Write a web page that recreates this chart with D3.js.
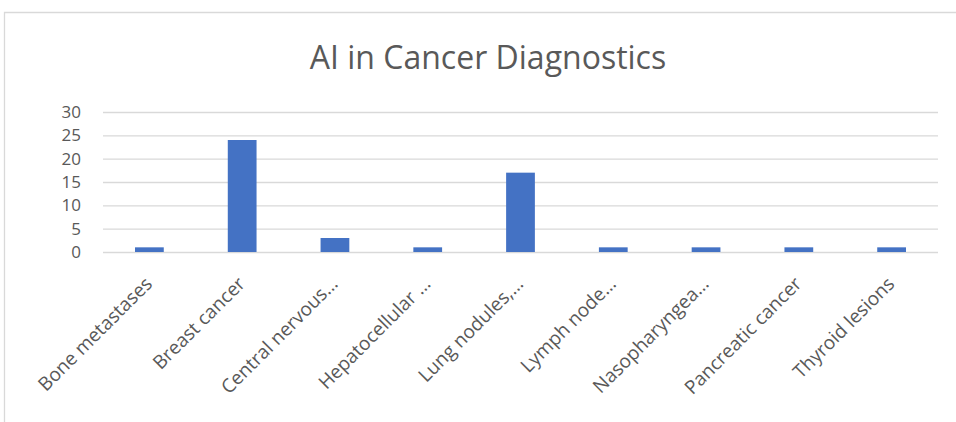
<!DOCTYPE html>
<html>
<head>
<meta charset="utf-8">
<script src="https://d3js.org/d3.v7.min.js"></script>
<style>
  body { margin: 0; background: #fff; }
  .grid line { stroke: #d9d9d9; stroke-width: 1.3px; }
  .grid .domain { stroke: none; }
  .yaxis text, .xaxis text { fill: #595959; }
</style>
</head>
<body>
<svg id="chart" width="956" height="422"></svg>
<script>
  const categories = ["Bone metastases", "Breast cancer", "Central nervous…", "Hepatocellular …",
    "Lung nodules,…", "Lymph node…", "Nasopharyngea…", "Pancreatic cancer", "Thyroid lesions"];
  const counts = [1, 24, 3, 1, 17, 1, 1, 1, 1];
  const yTicks = [0, 5, 10, 15, 20, 25, 30];

  const svg = d3.select("#chart");
  const margin = { top: 112, left: 103, right: 18, bottom: 170 };
  const chartWidth = 956 - margin.left - margin.right;
  const chartHeight = 252 - margin.top;

  // chart frame
  svg.append("path")
    .attr("d", "M4.5,422 L4.5,12.5 L956,12.5")
    .attr("fill", "none").attr("stroke", "#d9d9d9").attr("stroke-width", 1.3);

  svg.append("text")
    .attr("x", 488).attr("y", 69)
    .attr("text-anchor", "middle")
    .style("font-family", "'Open Sans', sans-serif")
    .style("font-size", "32px")
    .style("fill", "#595959")
    .text("AI in Cancer Diagnostics");

  const x = d3.scaleBand().domain(categories).range([0, chartWidth]).paddingInner(0.69).paddingOuter(0.345);
  const y = d3.scaleLinear().domain([0, 30]).range([chartHeight, 0]);

  const g = svg.append("g").attr("transform", `translate(${margin.left},${margin.top})`);

  g.append("g").attr("class", "grid")
    .call(d3.axisLeft(y).tickValues(yTicks).tickSize(-chartWidth).tickFormat(""));

  g.append("g").attr("class", "yaxis")
    .call(d3.axisLeft(y).tickValues(yTicks).tickSize(0).tickPadding(22))
    .call(a => a.select(".domain").remove())
    .selectAll("text")
    .style("font-family", "'Open Sans', sans-serif")
    .style("font-size", "17px")
    .attr("text-anchor", "end");

  g.selectAll("rect.bar").data(counts)
    .join("rect").attr("class", "bar")
    .attr("x", (d, i) => x(categories[i]))
    .attr("y", d => y(d))
    .attr("width", x.bandwidth())
    .attr("height", d => chartHeight - y(d))
    .attr("fill", "#4472c4");

  g.append("g").attr("class", "xaxis")
    .attr("transform", `translate(0,${chartHeight})`)
    .call(d3.axisBottom(x).tickSize(0).tickPadding(0))
    .call(a => a.select(".domain").remove())
    .selectAll("text")
    .style("font-family", "'Open Sans', sans-serif")
    .style("font-size", "19px")
    .attr("text-anchor", "end")
    .attr("dy", "0")
    .attr("transform", "translate(4,33) rotate(-45)");
</script>
</body>
</html>
